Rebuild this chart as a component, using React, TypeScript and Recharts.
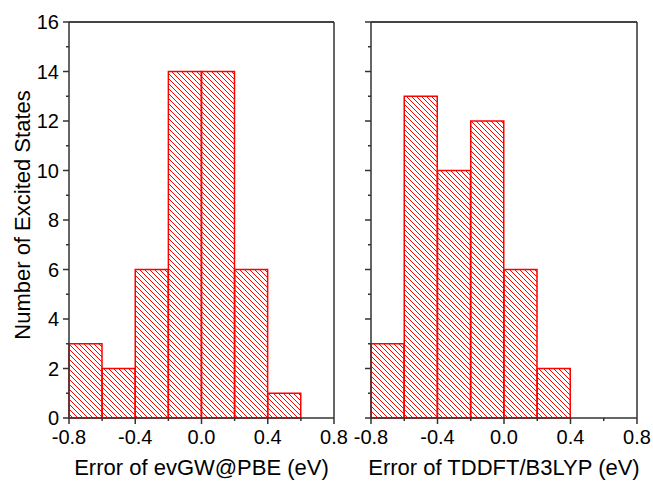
import { Bar, BarChart, Label, XAxis, YAxis } from "recharts";

const binStarts = [-0.8, -0.6, -0.4, -0.2, 0.0, 0.2, 0.4, 0.6];
const evgwCounts = [3, 2, 6, 14, 14, 6, 1, 0];
const tddftCounts = [3, 13, 10, 12, 6, 2, 0, 0];
const xTicks = [-0.8, -0.6, -0.4, -0.2, 0, 0.2, 0.4, 0.6, 0.8];
const xMajor = [-0.8, -0.4, 0, 0.4, 0.8];
const yTicks = [0, 1, 2, 3, 4, 5, 6, 7, 8, 9, 10, 11, 12, 13, 14, 15, 16];

const AXIS = "#333";
const RED = "#ff0000";
const FONT = "'Liberation Sans', Arial, sans-serif";

const makeData = (counts: number[]) =>
  binStarts.map((s, i) => ({ bin: s.toFixed(1), mid: s + 0.1, count: counts[i] }));

function XTick(props: any) {
  const { x, y, payload } = props;
  const v = payload.value as number;
  const major = xMajor.some((m) => Math.abs(m - v) < 1e-6);
  return (
    <g>
      <line x1={x} x2={x} y1={y} y2={y + (major ? 6 : 3)} stroke={AXIS} strokeWidth={1.5} />
      {major && (
        <text x={x} y={y + 26} textAnchor="middle" fontFamily={FONT} fontSize={20} fill="#000">
          {Math.abs(v) < 1e-6 ? "0.0" : v.toFixed(1)}
        </text>
      )}
    </g>
  );
}

function YTick(props: any) {
  const { x, y, payload, showLabel } = props;
  const v = payload.value as number;
  const major = v % 2 === 0;
  return (
    <g>
      <line x1={x} x2={x - (major ? 6 : 3)} y1={y} y2={y} stroke={AXIS} strokeWidth={1.5} />
      {major && showLabel && (
        <text x={x - 10} y={y + 7} textAnchor="end" fontFamily={FONT} fontSize={20} fill="#000">
          {v}
        </text>
      )}
    </g>
  );
}

function Panel({
  counts,
  title,
  width,
  yWidth,
  right,
  showYLabel,
  id,
}: {
  counts: number[];
  title: string;
  width: number;
  yWidth: number;
  right: number;
  showYLabel: boolean;
  id: string;
}) {
  return (
    <BarChart
      width={width}
      height={482}
      data={makeData(counts)}
      margin={{ top: 21, right, bottom: 0, left: 0 }}
      barCategoryGap={0}
      barGap={0}
    >
      <defs>
        <pattern id={id} patternUnits="userSpaceOnUse" width={5} height={5}>
          <path d="M0,0 L5,5 M-1,4 L1,6 M4,-1 L6,1" stroke={RED} strokeWidth={1} />
        </pattern>
      </defs>
      <XAxis
        xAxisId="val"
        dataKey="mid"
        type="number"
        domain={[-0.8, 0.8]}
        ticks={xTicks}
        allowDataOverflow
        height={64}
        tickLine={false}
        tickSize={0}
        tickMargin={0}
        tick={<XTick />}
        axisLine={{ stroke: AXIS, strokeWidth: 1.5 }}
      >
        <Label
          content={(p: any) => (
            <text
              x={p.viewBox.x + p.viewBox.width / 2}
              y={p.viewBox.y + 57}
              textAnchor="middle"
              fontFamily={FONT}
              fontSize={22}
              fill="#000"
            >
              {title}
            </text>
          )}
        />
      </XAxis>
      <XAxis xAxisId="bins" dataKey="bin" hide height={0} padding={{ left: 0, right: 0 }} />
      <XAxis
        xAxisId="top"
        dataKey="bin"
        orientation="top"
        height={1}
        tick={false}
        tickLine={false}
        axisLine={{ stroke: "#444", strokeWidth: 2 }}
      />
      <YAxis
        yAxisId="left"
        domain={[0, 16]}
        ticks={yTicks}
        interval={0}
        width={yWidth}
        tickLine={false}
        tickSize={0}
        tickMargin={0}
        tick={<YTick showLabel={showYLabel} />}
        axisLine={{ stroke: AXIS, strokeWidth: 1.5 }}
      >
        {showYLabel && (
          <Label
            content={(p: any) => (
              <text
                x={22}
                y={p.viewBox.y + p.viewBox.height / 2 - 5}
                textAnchor="middle"
                dominantBaseline="central"
                transform={`rotate(-90, 22, ${p.viewBox.y + p.viewBox.height / 2 - 5})`}
                fontFamily={FONT}
                fontSize={22}
                fill="#000"
              >
                Number of Excited States
              </text>
            )}
          />
        )}
      </YAxis>
      <YAxis
        yAxisId="right"
        dataKey="count"
        orientation="right"
        width={1}
        tick={false}
        tickLine={false}
        axisLine={{ stroke: AXIS, strokeWidth: 1.5 }}
      />
      <Bar
        xAxisId="bins"
        yAxisId="left"
        dataKey="count"
        fill={`url(#${id})`}
        stroke={RED}
        strokeWidth={1.5}
        isAnimationActive={false}
      />
    </BarChart>
  );
}

export default function App() {
  return (
    <div
      style={{
        position: "absolute",
        left: 0,
        top: 0,
        width: 653,
        height: 482,
        background: "#fff",
        display: "flex",
      }}
    >
      <style>{".recharts-surface { overflow: visible; }"}</style>
      <Panel
        counts={evgwCounts}
        title="Error of evGW@PBE (eV)"
        width={345}
        yWidth={69}
        right={10}
        showYLabel
        id="hatchL"
      />
      <Panel
        counts={tddftCounts}
        title="Error of TDDFT/B3LYP (eV)"
        width={308}
        yWidth={26}
        right={15}
        showYLabel={false}
        id="hatchR"
      />
    </div>
  );
}
